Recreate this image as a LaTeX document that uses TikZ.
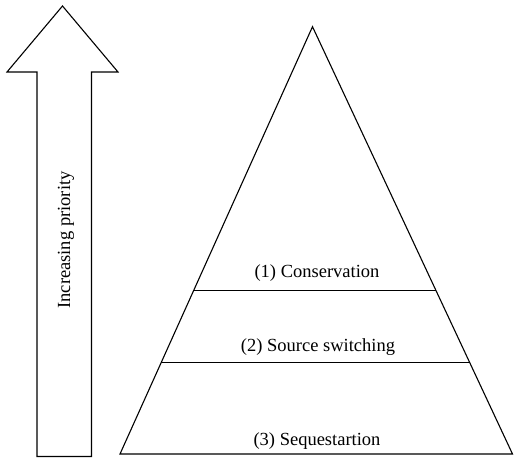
\documentclass[tikz,border=0pt]{standalone}
\usepackage{fontspec}
\setmainfont{Liberation Serif}
\usetikzlibrary{calc}

\begin{document}
\begin{tikzpicture}[
  x=1pt, y=1pt,
  line width=1.1pt, line join=miter,
  label/.style={font=\fontsize{18.5}{22}\selectfont, inner sep=0pt},
]
  \useasboundingbox (0, 0) rectangle (514, 459);

  % priority arrow
  \coordinate (tip)  at (62.5, 453);
  \coordinate (hl)   at (7, 387);
  \coordinate (hr)   at (118, 387);
  \coordinate (sl)   at (37, 387);
  \coordinate (sr)   at (91.5, 387);
  \coordinate (bl)   at (37, 2.5);
  \coordinate (br)   at (91.5, 2.5);
  \draw (tip) -- (hr) -- (sr) -- (br) -- (bl) -- (sl) -- (hl) -- cycle;
  \node[label, rotate=90] (prio) at (66, 219) {Increasing priority};

  % pyramid
  \coordinate (apex) at (312.5, 432.3);
  \coordinate (left) at (120, 5);
  \coordinate (right) at (512.5, 5);
  \draw (apex) -- (right) -- (left) -- cycle;
  \draw ($(apex)!0.618!(left)$) -- ($(apex)!0.618!(right)$);
  \draw ($(apex)!0.785!(left)$) -- ($(apex)!0.785!(right)$);

  \node[label, anchor=base] (cons) at (317, 182)   {(1) Conservation};
  \node[label, anchor=base] (swit) at (318, 107.3) {(2) Source switching};
  \node[label, anchor=base] (sequ) at (317, 14)    {(3) Sequestartion};
\end{tikzpicture}
\end{document}
